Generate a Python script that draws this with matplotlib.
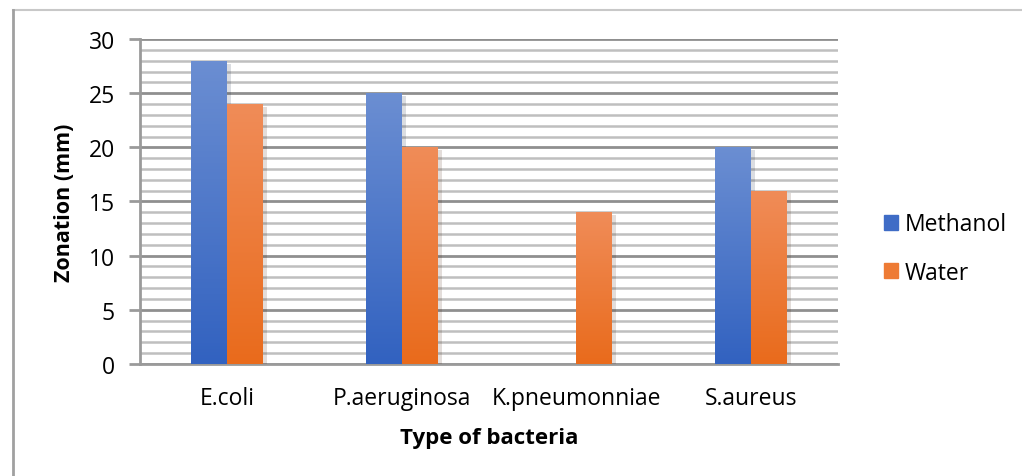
import numpy as np
import matplotlib.pyplot as plt
from matplotlib.lines import Line2D
from matplotlib.patches import Patch
import matplotlib.patheffects as pe

bacteria = ["E.coli", "P.aeruginosa", "K.pneumonniae", "S.aureus"]
methanol = [28, 25, 0, 20]
water = [24, 20, 14, 16]

plt.rcParams['font.family'] = ['Open Sans', 'DejaVu Sans']

fig = plt.figure(figsize=(10.22, 4.77), dpi=100)
ax = fig.add_axes([0.137, 0.235, 0.683, 0.681])

x = np.arange(len(bacteria))
w = 0.205


def gradient_bars(xs, vals, top, bottom, label):
    bars = ax.bar(xs, vals, w, color=bottom, label=label, zorder=3,
                  path_effects=[pe.SimplePatchShadow(offset=(3, -2), alpha=0.15),
                                pe.Normal()])
    cmap = plt.matplotlib.colors.LinearSegmentedColormap.from_list("g", [bottom, top])
    grad = np.linspace(0, 1, 100).reshape(-1, 1)
    for b in bars:
        if b.get_height() <= 0:
            continue
        x0 = b.get_x()
        im = ax.imshow(grad, cmap=cmap, origin="lower", aspect="auto",
                       extent=(x0, x0 + b.get_width(), 0, b.get_height()), zorder=4)
        im.set_clip_path(b)
    return bars


gradient_bars(x - w / 2, methanol, "#6b8ed2", "#3262c0", "Methanol")
gradient_bars(x + w / 2, water, "#f08c58", "#e96b1c", "Water")

ax.set_xlim(-0.5, 3.5)
ax.set_ylim(0, 30)
ax.set_yticks(range(0, 31, 5))
ax.set_yticks(range(0, 31, 1), minor=True)
ax.grid(axis="y", which="major", color="#8f8f8f", lw=2, zorder=1)
ax.grid(axis="y", which="minor", color="#bfbfbf", lw=1.8, zorder=1)
ax.set_axisbelow(True)

for s in ["top", "right"]:
    ax.spines[s].set_visible(False)
for s in ["left", "bottom"]:
    ax.spines[s].set_color("#9a9a9a")
    ax.spines[s].set_linewidth(2)

ax.set_xticks(x)
ax.set_xticklabels(bacteria, fontsize=16.5)
ax.tick_params(axis="x", length=0, pad=16)
ax.tick_params(axis="y", which="major", length=8, width=2, color="#9a9a9a",
               labelsize=16.5, pad=10)
ax.tick_params(axis="y", which="minor", length=0)

ax.set_xlabel("Type of bacteria", fontsize=16, fontweight="bold", labelpad=12)
ax.set_ylabel("Zonation (mm)", fontsize=15.5, fontweight="bold", labelpad=10)

handles = [Patch(color="#3f6cc6"), Patch(color="#ee7b34")]
fig.legend(handles, ["Methanol", "Water"], loc="center left",
           bbox_to_anchor=(0.845, 0.477), frameon=False, fontsize=16.5,
           handlelength=0.6, handleheight=0.6, handletextpad=0.3,
           labelspacing=1.05)

# chart frame
fig.add_artist(Line2D([0.013, 1.0], [0.977, 0.977], color="#c8c8c8", lw=1.5))
fig.add_artist(Line2D([0.013, 0.013], [0.0, 0.977], color="#a0a0a0", lw=2))

fig.savefig("out.png", dpi=100)
